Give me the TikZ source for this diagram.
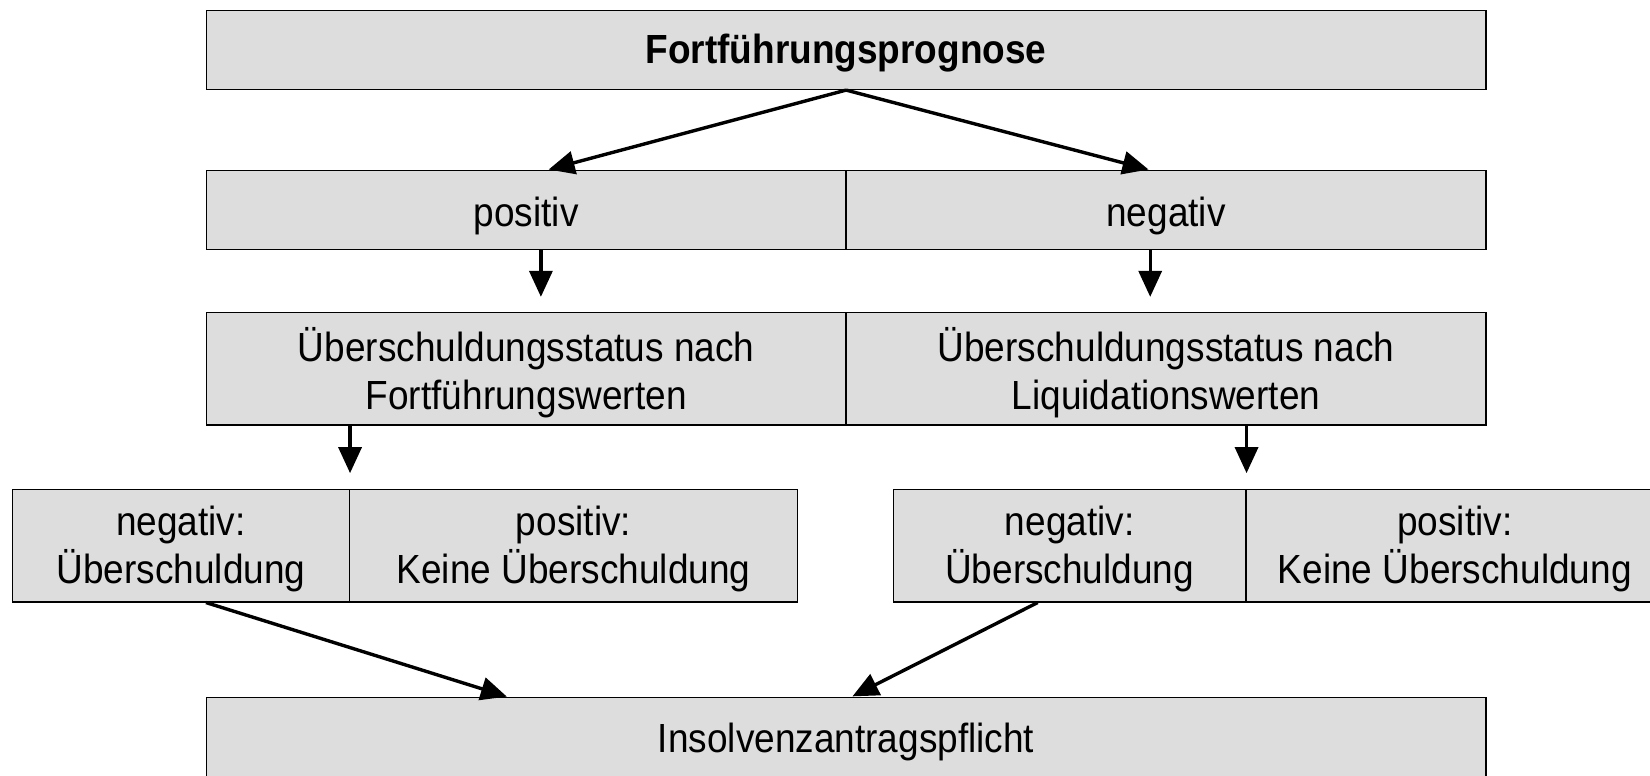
\documentclass[tikz,border=0pt]{standalone}
\usepackage{fontspec}
\usepackage{graphicx}
\setmainfont{Liberation Sans}
\usetikzlibrary{arrows.meta}
\definecolor{boxgray}{RGB}{221,221,221}
\newcommand\txline[2][3.5pt]{\raisebox{-#1}[\height][\depth]{\scalebox{1}[1.1]{#2}}}
\begin{document}
\begin{tikzpicture}[x=1pt,y=-1pt,
  cell/.style={draw=black, line width=1.3pt, fill=boxgray, inner sep=0pt,
    align=center, font=\fontsize{37}{48}\selectfont},
  arr/.style={line width=3.4pt, -{Triangle[length=26pt,width=23pt]}}]
\useasboundingbox (0,0) rectangle (1650,776);
% row 1
\node[cell, minimum width=1279.6pt, minimum height=78.9pt] (top) at (846.1,50) {\txline{\bfseries Fortführungsprognose}};
% row 2
\node[cell, minimum width=639.8pt, minimum height=78.9pt] (pos) at (526.2,210) {\txline[6pt]{positiv}};
\node[cell, minimum width=639.8pt, minimum height=78.9pt] (neg) at (1166,210) {\txline[6pt]{negativ}};
% row 3
\node[cell, minimum width=639.8pt, minimum height=112.6pt] (fw) at (526.2,368.8) {\txline{Überschuldungsstatus nach}\\\txline{Fortführungswerten}};
\node[cell, minimum width=639.8pt, minimum height=112.6pt] (lw) at (1166,368.8) {\txline{Überschuldungsstatus nach}\\\txline{Liquidationswerten}};
% row 4
\node[cell, minimum width=336.8pt, minimum height=112.6pt] (lneg) at (181,545.6) {\txline{negativ:}\\\txline{Überschuldung}};
\node[cell, minimum width=448.2pt, minimum height=112.6pt] (lpos) at (573.5,545.6) {\txline{positiv:}\\\txline{Keine Überschuldung}};
\node[cell, minimum width=352.5pt, minimum height=112.6pt] (rneg) at (1069.65,545.6) {\txline{negativ:}\\\txline{Überschuldung}};
\node[cell, minimum width=417.8pt, minimum height=112.6pt] (rpos) at (1454.8,545.6) {\txline{positiv:}\\\txline{Keine Überschuldung}};
% row 5
\node[cell, minimum width=1279.6pt, minimum height=82pt] (ins) at (846.1,738.7) {\txline{Insolvenzantragspflicht}};
% connectors
\draw[arr, shorten >=1.5pt] (top.south) -- ([xshift=21pt]pos.north);
\draw[arr, shorten >=1.5pt] (top.south) -- ([xshift=-16pt]neg.north);
\draw[arr, shorten >=15pt] ([xshift=14.7pt]pos.south) -- ([xshift=14.7pt]fw.north);
\draw[arr, shorten >=15pt] ([xshift=-15.8pt]neg.south) -- ([xshift=-15.8pt]lw.north);
\draw[arr, shorten >=15.5pt] (fw.south -| lneg.east) -- (lneg.north east);
\draw[arr, shorten >=15.5pt] (lw.south -| rneg.east) -- (rneg.north east);
\draw[arr, shorten >=1.5pt] ([xshift=25pt]lneg.south) -- ([xshift=-337.8pt]ins.north);
\draw[arr, shorten >=1.5pt] ([xshift=-32pt]rneg.south) -- ([xshift=5pt]ins.north);
\end{tikzpicture}
\end{document}
